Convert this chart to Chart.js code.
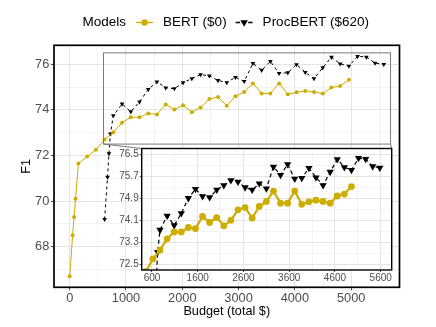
<!DOCTYPE html>
<html>
<head>
<meta charset="utf-8">
<script src="https://cdn.jsdelivr.net/npm/chart.js"></script>
<style>
  html, body { margin: 0; padding: 0; background: #fff; }
  #wrap { position: relative; width: 436px; height: 327px; }
  #main { position: absolute; left: 0; top: 0; }
  #inset { position: absolute; }
</style>
</head>
<body>
<div id="wrap">
  <canvas id="main" width="436" height="327"></canvas>
  <canvas id="inset"></canvas>
</div>
<script>
// budget (total $) and F1 per run
const bertBudget = [0, 51.7, 77.5, 103.3, 155, 310, 465, 620, 775, 930, 1085, 1240, 1395, 1550, 1705, 1860, 2015, 2170,
  2325, 2480, 2635, 2790, 2945, 3100, 3255, 3410, 3565, 3720, 3875, 4030, 4185, 4340, 4495, 4650, 4805, 4960];
const bertF1 = [66.7, 68.5, 69.3, 70.1, 71.65, 71.95, 72.25, 72.7, 73.02, 73.43, 73.68, 73.68, 73.84, 73.8, 74.24, 74.02, 74.2, 73.9,
  74.1, 74.48, 74.56, 74.18, 74.6, 74.78, 75.16, 74.72, 74.72, 75.16, 74.68, 74.77, 74.83, 74.78, 74.72, 74.98, 75.05, 75.32];

const procBudget = [620, 671.7, 697.5, 723.3, 775, 930, 1085, 1240, 1395, 1550, 1705, 1860, 2015, 2170, 2325, 2480, 2635, 2790,
  2945, 3100, 3255, 3410, 3565, 3720, 3875, 4030, 4185, 4340, 4495, 4650, 4805, 4960, 5115, 5270, 5425, 5580];
const procF1 = [69.2, 71.05, 72.08, 72.95, 73.75, 74.26, 73.92, 74.35, 74.9, 75.23, 74.97, 74.93, 75.2, 75.37, 75.55, 75.49, 75.29, 75.2,
  75.43, 75.25, 76.04, 75.74, 76.13, 75.6, 75.63, 75.99, 75.65, 75.37, 75.85, 76.31, 76.02, 75.92, 76.35, 76.32, 76.05, 76.0];

const seriesNames = ['BERT ($0)', 'ProcBERT ($620)'];
const legendTitle = 'Models';

const xTicksMain = [0, 1000, 2000, 3000, 4000, 5000];
const xMinorMain = [500, 1500, 2500, 3500, 4500, 5500];
const yTicksMain = [68, 70, 72, 74, 76];
const yMinorMain = [67, 69, 71, 73, 75];
const xTicksInset = [600, 1600, 2600, 3600, 4600, 5600];
const xMinorInset = [1100, 2100, 3100, 4100, 5100];
const yTicksInset = [72.5, 73.3, 74.1, 74.9, 75.7, 76.5];
const yMinorInset = [72.9, 73.7, 74.5, 75.3, 76.1];

// magnified region: x from, x to, y from, y to
const zoomFrom = [600, 5700, 72.5, 76.5];

const GOLD = '#CDAD00';
const FONT = "'Liberation Sans', Arial, sans-serif";
Chart.defaults.font.family = FONT;

// where the inset panel sits on the page
const INSET = { left: 141.7, top: 148.5, right: 391.7, bottom: 270 };
const INSET_CANVAS = { left: 100, top: 140, width: 300, height: 150 };

const pts = (xs, ys) => xs.map((x, i) => ({ x: x, y: ys[i] }));

function axis(major, minor, min, max, o) {
    const isMajor = c => c.tick && major.includes(c.tick.value);
    return {
        type: 'linear', min: min, max: max,
        afterBuildTicks: s => { s.ticks = major.concat(minor).sort((a, b) => a - b).map(v => ({ value: v })); },
        afterFit: s => {
            if (o.width != null) { s.width = o.width; s.paddingTop = 0; s.paddingBottom = 0; }
            if (o.height != null) { s.height = o.height; s.paddingLeft = 0; s.paddingRight = 0; }
        },
        border: { display: false },
        grid: {
            color: c => isMajor(c) ? '#e4e4e4' : '#f3f3f3',
            tickColor: c => isMajor(c) ? '#4d4d4d' : 'rgba(0,0,0,0)',
            tickLength: o.tl, lineWidth: 1
        },
        ticks: {
            autoSkip: false, maxRotation: 0, minRotation: 0, padding: o.pad, color: '#4d4d4d',
            font: { size: o.fs },
            callback: v => major.includes(v) ? String(v) : ''
        },
        title: o.title || { display: false }
    };
}

function downTriangle(ctx, x, y, r) {
    ctx.beginPath();
    ctx.moveTo(x, y + r);
    ctx.lineTo(x - r * Math.sin(Math.PI / 3), y - r / 2);
    ctx.lineTo(x + r * Math.sin(Math.PI / 3), y - r / 2);
    ctx.closePath();
    ctx.fill();
}

const panelBg = {
    id: 'panelBg',
    beforeDraw(chart, args, opts) {
        const a = chart.chartArea, ctx = chart.ctx;
        ctx.save();
        ctx.fillStyle = '#fff';
        if (opts.whole) ctx.fillRect(0, 0, chart.width, chart.height);
        else ctx.fillRect(a.left, a.top, a.right - a.left, a.bottom - a.top);
        ctx.restore();
    }
};

const frame = {
    id: 'frame',
    afterDatasetsDraw(chart, args, opts) {
        const a = chart.chartArea, ctx = chart.ctx;
        ctx.save();
        ctx.strokeStyle = '#000';
        ctx.lineWidth = opts.width || 1.5;
        ctx.strokeRect(a.left, a.top, a.right - a.left, a.bottom - a.top);
        ctx.restore();
    }
};

const magnifier = {
    id: 'magnifier',
    afterDatasetsDraw(chart) {
        const { ctx, scales: { x, y } } = chart;
        const l = x.getPixelForValue(zoomFrom[0]), r = x.getPixelForValue(zoomFrom[1]);
        const t = y.getPixelForValue(zoomFrom[3]), b = y.getPixelForValue(zoomFrom[2]);
        ctx.save();
        ctx.strokeStyle = '#7a7a7a';
        ctx.lineWidth = 1;
        ctx.strokeRect(l, t, r - l, b - t);
        ctx.beginPath();
        ctx.moveTo(l, b); ctx.lineTo(INSET.left, INSET.top);
        ctx.moveTo(r, b); ctx.lineTo(INSET.right, INSET.top);
        ctx.stroke();
        ctx.restore();
    }
};

// ggplot style legend: title then keys inline
const keyLegend = {
    id: 'keyLegend',
    afterDraw(chart) {
        const ctx = chart.ctx, a = chart.chartArea;
        ctx.save();
        ctx.font = '13.5px ' + FONT;
        ctx.textBaseline = 'middle';
        ctx.fillStyle = '#000';
        const wT = ctx.measureText(legendTitle).width;
        const w0 = ctx.measureText(seriesNames[0]).width;
        const w1 = ctx.measureText(seriesNames[1]).width;
        const key = 17;
        const total = wT + 10 + key + 10 + w0 + 9 + key + 10 + w1;
        let x = (a.left + a.right) / 2 - total / 2 - 1;
        const y = 22.5;
        ctx.fillText(legendTitle, x, y);
        x += wT + 10;

        ctx.strokeStyle = GOLD; ctx.fillStyle = GOLD; ctx.lineWidth = 1.3;
        ctx.beginPath(); ctx.moveTo(x, y); ctx.lineTo(x + key, y); ctx.stroke();
        ctx.beginPath(); ctx.arc(x + key / 2, y, 3.2, 0, Math.PI * 2); ctx.fill();
        x += key + 10;
        ctx.fillStyle = '#000';
        ctx.fillText(seriesNames[0], x, y);
        x += w0 + 9;

        ctx.strokeStyle = '#000'; ctx.lineWidth = 1.3;
        ctx.setLineDash([4.5, 8]);
        ctx.beginPath(); ctx.moveTo(x, y); ctx.lineTo(x + key, y); ctx.stroke();
        ctx.setLineDash([]);
        downTriangle(ctx, x + key / 2, y, 4.3);
        x += key + 10;
        ctx.fillText(seriesNames[1], x, y);
        ctx.restore();
    }
};

new Chart(document.getElementById('main'), {
    type: 'scatter',
    data: {
        datasets: [
            {
                label: seriesNames[0], data: pts(bertBudget, bertF1), showLine: true,
                borderColor: GOLD, backgroundColor: GOLD, borderWidth: 1,
                pointRadius: 2, pointBorderWidth: 0
            },
            {
                label: seriesNames[1], data: pts(procBudget, procF1), showLine: true,
                borderColor: '#000', backgroundColor: '#000', borderWidth: 1, borderDash: [3, 3],
                pointStyle: 'triangle', pointRotation: 180, pointRadius: 2.7, pointBorderWidth: 0
            }
        ]
    },
    options: {
        responsive: false, animation: false, events: [],
        layout: { padding: { left: 0, top: 45.3, right: 36.5, bottom: 0 } },
        plugins: { legend: { display: false }, tooltip: { enabled: false }, panelBg: { whole: true }, frame: { width: 1.7 } },
        scales: {
            x: axis(xTicksMain, xMinorMain, -279, 5859, {
                height: 39.7, tl: 3, pad: 0, fs: 12.8,
                title: { display: true, text: 'Budget (total $)', color: '#000', font: { size: 12.7 }, padding: { top: 0, bottom: 7.5 } }
            }),
            y: axis(yTicksMain, yMinorMain, 66.2175, 76.8325, {
                width: 54, tl: 3, pad: 1.7, fs: 12.8,
                title: { display: true, text: 'F1', color: '#000', font: { size: 12.7 }, padding: { top: 18.7, bottom: 0 } }
            })
        }
    },
    plugins: [panelBg, magnifier, frame, keyLegend]
});

const insetEl = document.getElementById('inset');
insetEl.width = INSET_CANVAS.width;
insetEl.height = INSET_CANVAS.height;
insetEl.style.left = INSET_CANVAS.left + 'px';
insetEl.style.top = INSET_CANVAS.top + 'px';

new Chart(insetEl, {
    type: 'scatter',
    data: {
        datasets: [
            {
                label: seriesNames[0], data: pts(bertBudget, bertF1), showLine: true,
                borderColor: GOLD, backgroundColor: GOLD, borderWidth: 2.2,
                pointRadius: 3.4, pointBorderWidth: 0
            },
            {
                label: seriesNames[1], data: pts(procBudget, procF1), showLine: true,
                borderColor: '#000', backgroundColor: '#000', borderWidth: 1.2, borderDash: [4, 3],
                pointStyle: 'triangle', pointRotation: 180, pointRadius: 4.2, pointBorderWidth: 0
            }
        ]
    },
    options: {
        responsive: false, animation: false, events: [],
        layout: {
            padding: {
                left: 0, bottom: 0,
                top: INSET.top - INSET_CANVAS.top,
                right: INSET_CANVAS.left + INSET_CANVAS.width - INSET.right
            }
        },
        plugins: { legend: { display: false }, tooltip: { enabled: false }, panelBg: { whole: false }, frame: { width: 1.4 } },
        scales: {
            x: axis(xTicksInset, xMinorInset, 375, 5840, {
                height: INSET_CANVAS.top + INSET_CANVAS.height - INSET.bottom, tl: 2, pad: 0, fs: 10
            }),
            y: axis(yTicksInset, yMinorInset, 72.3, 76.7, {
                width: INSET.left - INSET_CANVAS.left, tl: 2, pad: 1, fs: 10
            })
        }
    },
    plugins: [panelBg, frame]
});
</script>
</body>
</html>
